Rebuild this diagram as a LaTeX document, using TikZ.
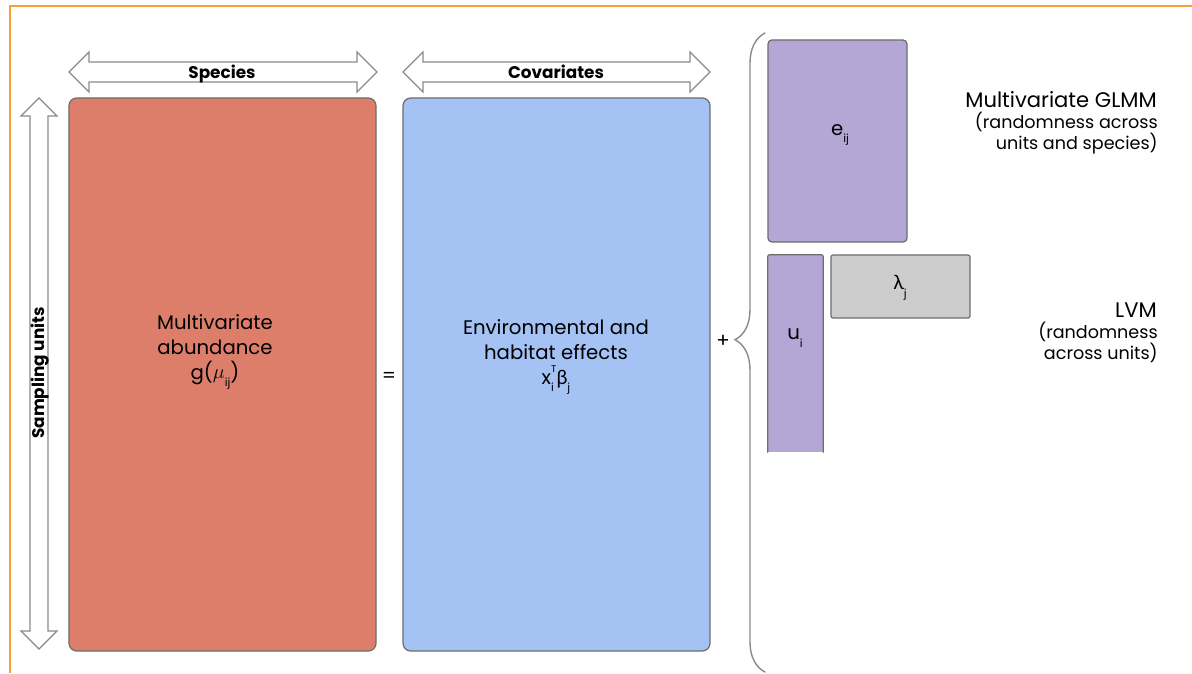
\documentclass[tikz,border=0pt]{standalone}
\usepackage{fontspec}
\setmainfont{Poppins}
\newfontfamily\greekfont{Lato}
\usetikzlibrary{decorations.pathreplacing}

\definecolor{abundfill}{HTML}{DD7E6B}
\definecolor{covfill}{HTML}{A4C2F4}
\definecolor{randfill}{HTML}{B4A7D6}
\definecolor{loadfill}{HTML}{CCCCCC}
\definecolor{edgegray}{HTML}{6E6E6E}
\definecolor{arrowgray}{HTML}{8A8A8A}
\definecolor{frameorange}{HTML}{F7A036}

\newcommand{\lowsub}[1]{\raisebox{-0.7ex}{\fontsize{8}{8}\selectfont #1}}
\newcommand{\highsup}[1]{\raisebox{1.1ex}{\fontsize{7}{7}\selectfont #1}}

\begin{document}
\begin{tikzpicture}[
	x=0.025cm, y=-0.025cm,
	every node/.style={font=\fontsize{14}{17.7}\selectfont, inner sep=0pt},
	box/.style={draw=edgegray, line width=0.9pt, rounded corners=0.2cm},
	dblarrow/.style={draw=arrowgray, line width=0.8pt, fill=white, line join=miter},
	arrowtext/.style={font=\fontsize{12}{14}\selectfont\bfseries},
	note/.style={font=\fontsize{12.5}{13.5}\selectfont, align=right, anchor=north east},
	line cap=round
	]
	
	\useasboundingbox (0,0) rectangle (1192,673);
	
	% orange frame
	\draw[frameorange, line width=1.4pt, line cap=butt] (10,673) -- (10,6) -- (1192,6);
	
	% double arrows
	\draw[dblarrow] (69,72) -- (89,52) -- (89,62) -- (357,62) -- (357,52) -- (377,72)
		-- (357,92) -- (357,82) -- (89,82) -- (89,92) -- cycle;
	\draw[dblarrow] (403,72) -- (423,52) -- (423,62) -- (690,62) -- (690,52) -- (710,72)
		-- (690,92) -- (690,82) -- (423,82) -- (423,92) -- cycle;
	\draw[dblarrow] (39,98) -- (57,116) -- (48,116) -- (48,631) -- (57,631) -- (39,649)
		-- (21,631) -- (30,631) -- (30,116) -- (21,116) -- cycle;
	\node[arrowtext] (species) at (222,73.5) {Species};
	\node[arrowtext] (covariates) at (556,72) {Covariates};
	\node[arrowtext, rotate=90] (units) at (40,373) {Sampling units};
	
	% main matrices
	\node[box, fill=abundfill, minimum width=7.675cm, minimum height=13.825cm] (abund) at (222.5,374.5) {};
	\node[box, fill=covfill, minimum width=7.675cm, minimum height=13.825cm] (cov) at (556.5,374.5) {};
	\node[align=center] (abundtext) at (215,352) {Multivariate\\abundance\\g(\raisebox{0.1ex}{$\mu$}\lowsub{ij})};
	\node[align=center] (covtext) at (556,357) {Environmental and\\habitat effects\\x\rlap{\lowsub{i}}\highsup{T}{\greekfont β}\lowsub{j}};
	
	\node (equals) at (389,377) {=};
	\node (plus) at (723,341) {+};
	
	% brace
	\draw[arrowgray, line width=1pt, decorate, decoration={brace, amplitude=0.75cm, aspect=0.52}] (765,672) -- (765,33);
	
	% random parts
	\node[box, fill=randfill, rounded corners=0.1cm, minimum width=3.475cm, minimum height=5.05cm] (eij) at (837.5,141) {};
	\node (eijtext) at (840,135) {e\lowsub{ij}};
	\node[fill=randfill, minimum width=1.375cm, minimum height=4.925cm] (ui) at (795.5,353.5) {};
	\draw[edgegray, line width=0.9pt, rounded corners=0.05cm] (ui.south west) -- (ui.north west) -- (ui.north east) -- (ui.south east);
	\node (uitext) at (795,338) {u\lowsub{i}};
	\node[box, fill=loadfill, rounded corners=0.05cm, minimum width=3.475cm, minimum height=1.575cm] (lamj) at (900.5,286.5) {};
	\node (lamtext) at (900,288) {{\greekfont λ}\lowsub{j}};
	
	% model labels
	\node[anchor=east, font=\fontsize{15}{17.7}\selectfont] (glmm) at (1157,100) {Multivariate GLMM};
	\node[note] (glmmnote) at (1158,112) {(randomness across\\units and species)};
	\node[anchor=east, font=\fontsize{15}{17.7}\selectfont] (lvm) at (1157,310) {LVM};
	\node[note] (lvmnote) at (1158,322) {(randomness\\across units)};
	
\end{tikzpicture}
\end{document}
